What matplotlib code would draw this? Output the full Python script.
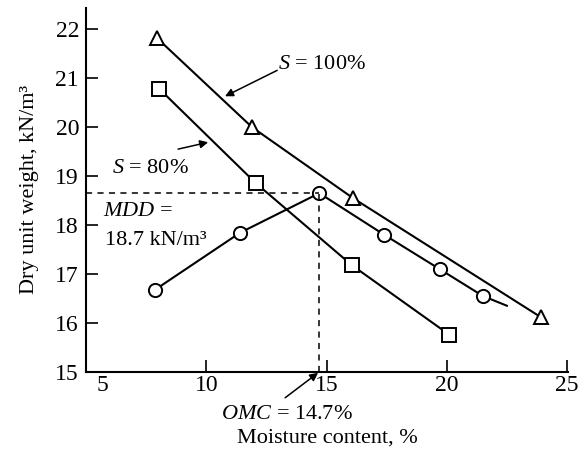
import matplotlib

matplotlib.use("Agg")
import matplotlib.pyplot as plt
import matplotlib.transforms as mtransforms

plt.rcParams["font.family"] = ["Liberation Serif", "DejaVu Serif"]
plt.rcParams["mathtext.fontset"] = "custom"
plt.rcParams["mathtext.rm"] = "Liberation Serif"
plt.rcParams["mathtext.it"] = "Liberation Serif:italic"

# zero-air-void style curves (S = 100 %, S = 80 %)
w_s100 = [7.95, 11.9, 16.1, 23.9]
gd_s100 = [21.82, 20.0, 18.55, 16.12]
w_s80 = [8.05, 12.05, 16.05, 20.1]
gd_s80 = [20.78, 18.86, 17.18, 15.76]

# compaction test points (last value is only where the drawn curve stops)
w_test = [7.85, 11.4, 14.7, 17.4, 19.7, 21.5, 22.5]
gd_test = [16.67, 17.84, 18.65, 17.8, 17.1, 16.55, 16.35]

omc = 14.7
mdd = 18.65

x_ticks = [5, 10, 15, 20, 25]
y_ticks = [15, 16, 17, 18, 19, 20, 21, 22]

fig = plt.figure(figsize=(5.81, 4.54), dpi=100)
ax = fig.add_axes([0.148, 0.181, 0.830, 0.801])

mk = dict(markersize=9.5, markerfacecolor="white", markeredgecolor="black",
          markeredgewidth=1.4, color="black", lw=1.5)
ax.plot(w_s100, gd_s100, marker="^", **mk)
ax.plot(w_s80, gd_s80, marker="s", **mk)
ax.plot(w_test, gd_test, marker="o", markevery=list(range(6)), **mk)

# OMC / MDD guide lines
ax.plot([5, omc], [mdd, mdd], ls=(0, (4, 3.5)), color="black", lw=1.1)
ax.plot([omc, omc], [15, mdd], ls=(0, (4, 3.5)), color="black", lw=1.1)

fs = 16
arrow = dict(arrowstyle="-|>", color="black", lw=1.1, mutation_scale=12,
             shrinkA=0, shrinkB=0)
ax.text(13.0, 21.27, r"$S$ = 100%", fontsize=fs, va="center", ha="left")
ax.annotate("", xy=(10.78, 20.63), xytext=(12.95, 21.16), arrowprops=arrow)
ax.text(6.08, 19.16, r"$S$ = 80%", fontsize=fs, va="center", ha="left")
ax.annotate("", xy=(10.08, 19.69), xytext=(8.83, 19.55), arrowprops=arrow)
ax.text(5.7, 18.27, r"$MDD$ =", fontsize=fs, va="center", ha="left")
ax.text(5.79, 17.69, "18.7 kN/m³", fontsize=fs, va="center", ha="left")
ax.text(10.62, 14.12, r"$OMC$ = 14.7%", fontsize=fs, va="center", ha="left",
        clip_on=False)
ax.annotate("", xy=(14.65, 14.98), xytext=(13.28, 14.47), arrowprops=arrow,
            annotation_clip=False)

ax.set_xlim(5, 25.05)
ax.set_ylim(15, 22.43)
ax.set_xticks(x_ticks)
ax.set_yticks(y_ticks)
ax.tick_params(direction="in", length=8.5, width=1.2, labelsize=17)
ax.tick_params(axis="x", pad=2)
ax.tick_params(axis="y", pad=5)
for side in ["top", "right"]:
    ax.spines[side].set_visible(False)
for side in ["left", "bottom"]:
    ax.spines[side].set_linewidth(1.5)

# the "5" label sits a bit right of the axis corner in the original
lab5 = ax.get_xticklabels()[0]
lab5.set_transform(lab5.get_transform()
                   + mtransforms.ScaledTranslation(0.16, 0, fig.dpi_scale_trans))

ax.set_xlabel("Moisture content, %", fontsize=fs, labelpad=24)
ax.set_ylabel("Dry unit weight, kN/m³", fontsize=fs, labelpad=12)

fig.savefig("out.png", dpi=100)
